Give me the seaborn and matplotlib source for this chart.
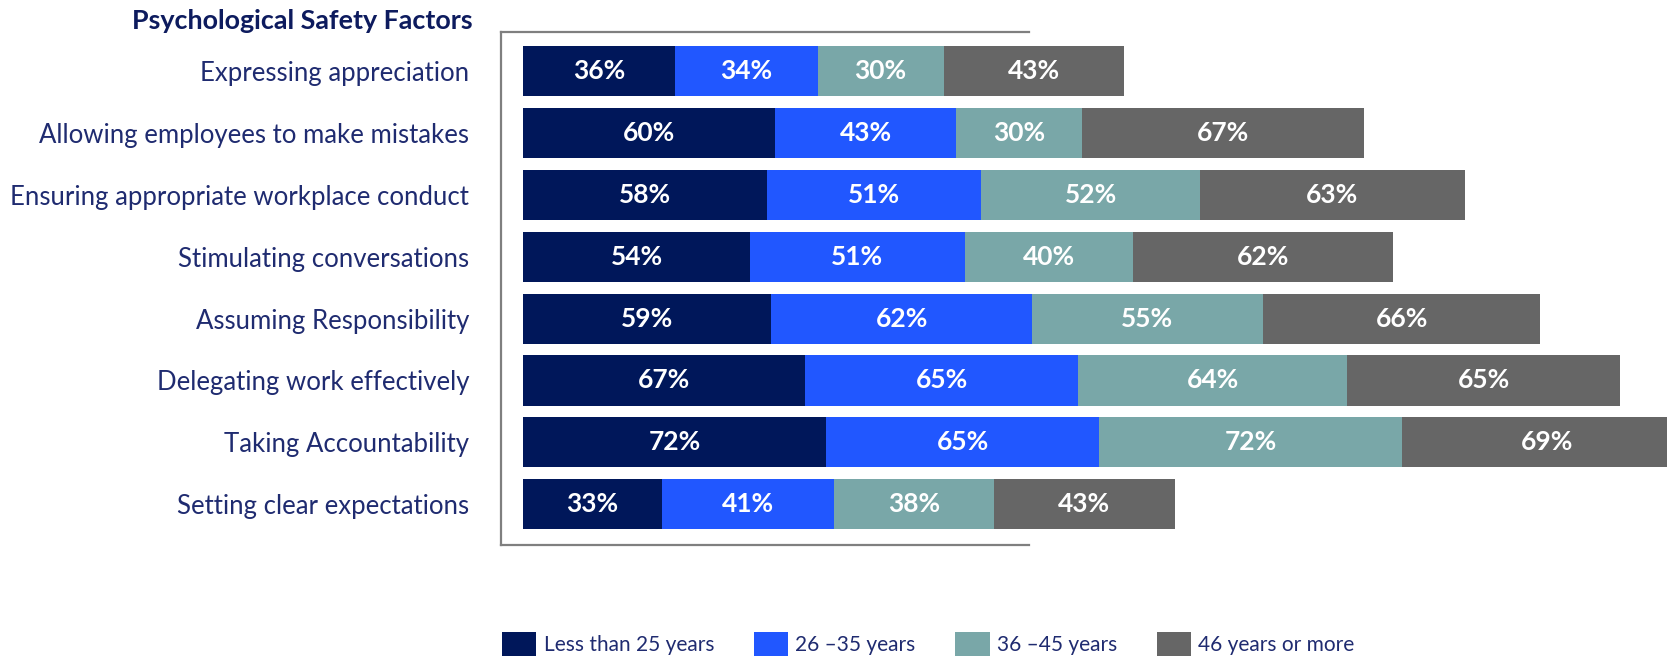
import matplotlib
matplotlib.use("Agg")
import matplotlib.pyplot as plt
from matplotlib.patches import Patch
import numpy as np
import pandas as pd
import seaborn as sns

factors = [
    "Expressing appreciation",
    "Allowing employees to make mistakes",
    "Ensuring appropriate workplace conduct",
    "Stimulating conversations",
    "Assuming Responsibility",
    "Delegating work effectively",
    "Taking Accountability",
    "Setting clear expectations",
]
age_groups = ["Less than 25 years", "26 \u201335 years", "36 \u201345 years", "46 years or more"]
under_25 = [36, 60, 58, 54, 59, 67, 72, 33]
age_26_35 = [34, 43, 51, 51, 62, 65, 65, 41]
age_36_45 = [30, 30, 52, 40, 55, 64, 72, 38]
age_46_plus = [43, 67, 63, 62, 66, 65, 69, 43]

colors = ["#00175A", "#2157FF", "#79A7A8", "#666666"]
navy = "#1F2B70"

sns.set_theme(style="white")
plt.rcParams["font.family"] = ["Lato", "DejaVu Sans"]

series = [under_25, age_26_35, age_36_45, age_46_plus]
values = np.array(series, dtype=float)          # shape (groups, factors)
cum = np.cumsum(values, axis=0)
starts = cum - values

fig = plt.figure(figsize=(16.67, 6.58), dpi=100)
ax = fig.add_axes([501 / 1667, 1 - 545 / 658, 1 - 501 / 1667, (545 - 32) / 658])

# stacked bars: draw cumulative totals from the widest back to the narrowest
for i in range(len(series) - 1, -1, -1):
    df = pd.DataFrame({"factor": factors, "total": cum[i]})
    sns.barplot(data=df, y="factor", x="total", order=factors, orient="h",
                color=colors[i], saturation=1, width=0.81, ax=ax,
                edgecolor="none", linewidth=0)

# value labels inside each segment
for i in range(len(series)):
    for j in range(len(factors)):
        ax.text(starts[i, j] + values[i, j] / 2, j, f"{int(values[i, j])}%",
                ha="center", va="center", color="white",
                fontsize=19, fontweight="bold", clip_on=True)

ax.set_xlim(-5.3, 272.1)
ax.set_ylim(7.66, -0.635)
ax.set_xlabel("")
ax.set_ylabel("")
ax.set_xticks([])
ax.tick_params(axis="y", length=0, pad=23)
for lbl in ax.get_yticklabels():
    lbl.set_fontsize(18.5)
    lbl.set_fontweight("normal")
    lbl.set_color(navy)

# bracket-shaped frame on the left
for side in ["left", "top", "bottom"]:
    ax.spines[side].set_visible(True)
    ax.spines[side].set_color("#7F7F7F")
    ax.spines[side].set_linewidth(1.6)
ax.spines["right"].set_visible(False)
ax.spines["top"].set_bounds(-5.3, 120.4)
ax.spines["bottom"].set_bounds(-5.3, 120.4)

fig.text(473 / 1667, 1 - 21 / 658, "Psychological Safety Factors",
         ha="right", va="center", fontsize=19.4, fontweight="bold", color="#0D1B5E")

handles = [Patch(facecolor=c, edgecolor="none") for c in colors]
fig.legend(handles, age_groups, loc="center left",
           bbox_to_anchor=(502 / 1667, 1 - 644 / 658), ncol=4, frameon=False,
           handlelength=1.65, handleheight=1.45, handletextpad=0.35,
           columnspacing=1.9, borderpad=0, borderaxespad=0,
           fontsize=15, labelcolor=navy)

fig.savefig("out.png", dpi=100)
